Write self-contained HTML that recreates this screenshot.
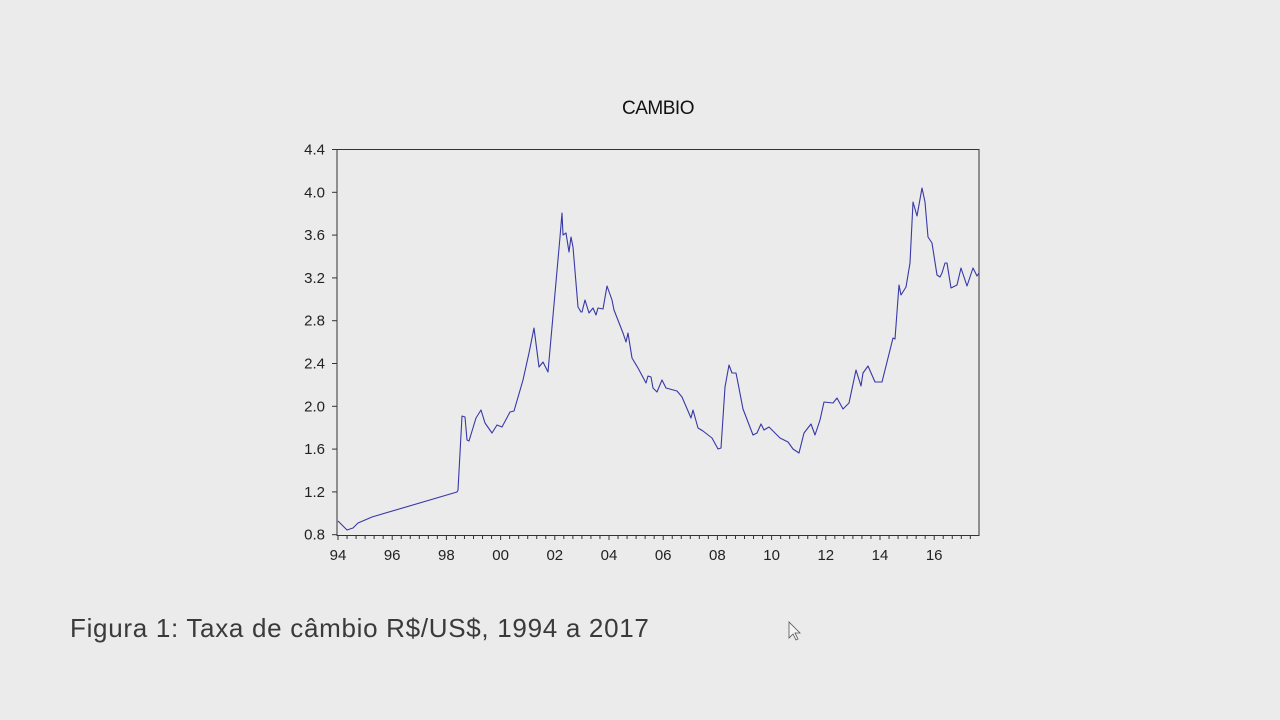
<!DOCTYPE html>
<html><head><meta charset="utf-8"><style>
html,body{margin:0;padding:0;background:#ebebeb;}
body{width:1280px;height:720px;overflow:hidden;position:relative;font-family:"Liberation Sans",Arial,sans-serif;}
</style></head><body>
<svg id="s" width="1280" height="720" style="position:absolute;left:0;top:0">
<rect x="0" y="0" width="1280" height="720" fill="#ebebeb"/>
<text x="658" y="114" font-size="19" text-anchor="middle" fill="#111" font-family="Liberation Sans, Arial, sans-serif" letter-spacing="-0.5">CAMBIO</text>
<rect x="337" y="149.5" width="642" height="386" fill="none" stroke="#333" stroke-width="1"/>
<g id="yt" font-size="15" fill="#222" text-anchor="end" font-family="Liberation Sans, Arial, sans-serif"></g>
<g id="xt" font-size="15" fill="#222" text-anchor="middle" font-family="Liberation Sans, Arial, sans-serif"></g>
<polyline fill="none" stroke="#3838a8" stroke-width="1.1" stroke-linejoin="round" points="338,521 347,530 353,528 358,523 372,517 457,492 458,490 462,416 465,417 467,440 469,441 476,418 481,410 485,423 492,433 497,425 502,427 510,412 514,411 523,380 529,353 534,328 539,367 543,362 548,372 560,237 562,213 563,235 566,233 569,252 571,237 573,247 578,307 581,312 582,312 585,300 589,313 593,308 596,315 598,308 603,309 607,286 612,300 614,310 623,333 626,342 628,333 632,358 638,368 646,383 648,376 651,377 653,388 657,392 662,380 666,388 677,391 682,397 691,418 693,410 698,428 703,431 712,438 718,449 721,448 725,387 729,365 732,373 736,373 738,383 743,409 753,435 757,433 761,424 764,430 769,427 780,438 788,442 793,449 799,453 804,433 811,424 815,435 820,420 824,402 833,403 837,398 843,409 849,403 856,370 861,386 863,373 868,366 875,382 882,382 893,338 895,339 899,285 901,295 906,287 910,263 913,202 917,216 922,188 925,202 928,237 932,243 937,275 940,277 942,273 945,263 947,263 951,288 957,285 961,268 967,286 973,268 977,276 979,273"/>
<text x="70" y="637" font-size="26" fill="#3a3a3a" letter-spacing="0.7" font-family="Liberation Sans, Arial, sans-serif">Figura 1: Taxa de câmbio R$/US$, 1994 a 2017</text>
<path d="M789,622 L789,638 L793,634 L796,640 L798,639 L795,633 L800,633 Z" fill="#f4f4f4" stroke="#555" stroke-width="0.8"/>
</svg>
<script>
var ns="http://www.w3.org/2000/svg",s=document.getElementById('s');
var yt=document.getElementById('yt'),xt=document.getElementById('xt');
function el(p,t,a){var e=document.createElementNS(ns,t);for(var k in a)e.setAttribute(k,a[k]);p.appendChild(e);return e;}
var labs=["4.4","4.0","3.6","3.2","2.8","2.4","2.0","1.6","1.2","0.8"];
for(var i=0;i<10;i++){var y=149.5+i*42.8;
 el(s,'line',{x1:332,x2:337,y1:y,y2:y,stroke:'#333','stroke-width':1});
 var t=el(yt,'text',{x:325,y:y+5});t.textContent=labs[i];}
var x0=338,py=27.1;
for(var m=0;m<=70;m++){var x=x0+m*py/3;if(x>980)break;
 var maj=(m%6==0);
 el(s,'line',{x1:x,x2:x,y1:535.5,y2:maj?540:539,stroke:'#333','stroke-width':1});}
var yl=["94","96","98","00","02","04","06","08","10","12","14","16"];
for(var j=0;j<yl.length;j++){var t=el(xt,'text',{x:x0+j*2*py,y:560});t.textContent=yl[j];}
</script>
</body></html>
